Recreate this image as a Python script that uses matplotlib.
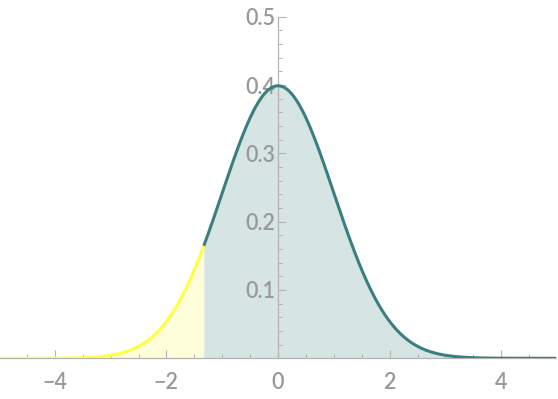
import numpy as np
import matplotlib
matplotlib.use("Agg")
import matplotlib.pyplot as plt
from matplotlib.ticker import MultipleLocator

# Data: standard normal density, shaded left tail up to the cutoff
mean = 0.0
sd = 1.0
cutoff = -1.33
x_range = [-4.982, 4.982]
y_range = [0.0, 0.5]
x_ticks = [-4, -2, 0, 2, 4]
y_ticks = [0.1, 0.2, 0.3, 0.4, 0.5]

xs = np.linspace(x_range[0], x_range[1], 1200)
pdf = np.exp(-0.5 * ((xs - mean) / sd) ** 2) / (sd * np.sqrt(2 * np.pi))
left = xs <= cutoff
right = xs >= cutoff
xl = np.append(xs[left], cutoff)
yl = np.append(pdf[left], np.exp(-0.5 * ((cutoff - mean) / sd) ** 2) / (sd * np.sqrt(2 * np.pi)))
xr = np.insert(xs[right], 0, cutoff)
yr = np.insert(pdf[right], 0, yl[-1])

plt.rcParams['font.family'] = ['Lato', 'DejaVu Sans']

fig = plt.figure(figsize=(5.58, 3.99), dpi=100)
ax = fig.add_axes([0.0, 0.102, 0.9965, 0.856])

teal = '#3a7f80'
teal_fill = '#d6e4e4'
yellow = '#ffff44'
yellow_fill = '#fefedb'

ax.fill_between(xl, 0, yl, color=yellow_fill, lw=0, zorder=1)
ax.fill_between(xr, 0, yr, color=teal_fill, lw=0, zorder=1)
ax.plot(xl, yl, color=yellow, lw=2.2, zorder=3, solid_capstyle='butt')
ax.plot(xr, yr, color=teal, lw=2.2, zorder=3, solid_capstyle='butt')

ax.set_xlim(*x_range)
ax.set_ylim(*y_range)

for s in ['top', 'right']:
    ax.spines[s].set_visible(False)
ax.spines['left'].set_position(('data', 0))
ax.spines['bottom'].set_position(('data', 0))
gray = '#b3b3b3'
for s in ['left', 'bottom']:
    ax.spines[s].set_color(gray)
    ax.spines[s].set_linewidth(0.9)
    ax.spines[s].set_zorder(2)

ax.set_xticks(x_ticks)
ax.set_yticks(y_ticks)
ax.set_yticklabels([f"{v:.1f}" for v in y_ticks])
ax.xaxis.set_minor_locator(MultipleLocator(0.5))
ax.yaxis.set_minor_locator(MultipleLocator(0.02))
ax.tick_params(axis='both', which='major', direction='in', length=5.5, width=0.8,
               color=gray, labelcolor='#999999', labelsize=15.5)
ax.tick_params(axis='both', which='minor', direction='in', length=3.2, width=0.7, color=gray)
ax.tick_params(axis='x', which='major', pad=10)
ax.tick_params(axis='y', which='major', pad=2)
for t in ax.get_xticklabels() + ax.get_yticklabels():
    t.set_fontweight('semibold')
    t.set_zorder(4)

fig.savefig('out.png', dpi=100)
